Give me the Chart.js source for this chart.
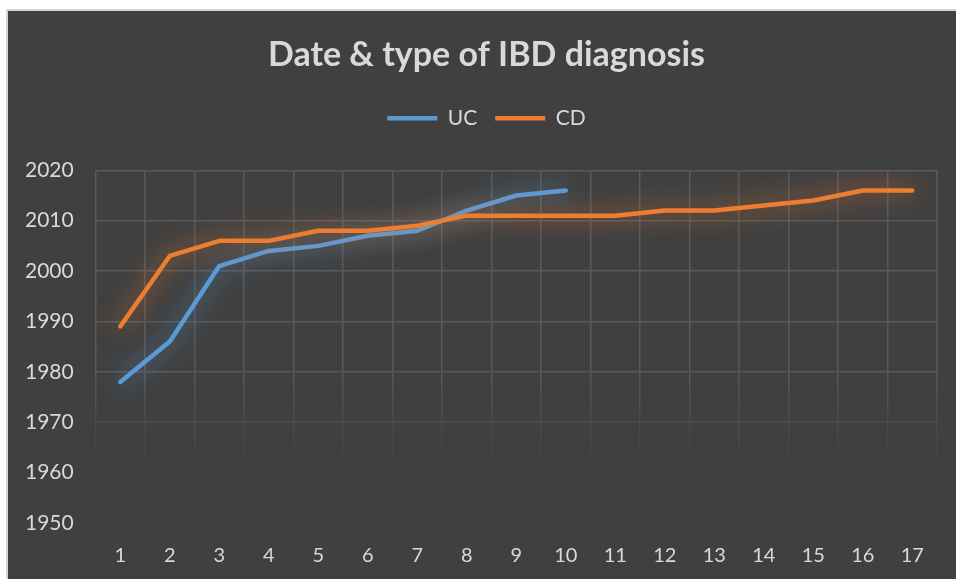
<!DOCTYPE html>
<html>
<head>
<meta charset="utf-8">
<script src="https://cdn.jsdelivr.net/npm/chart.js@4.4.1/dist/chart.umd.min.js"></script>
<style>
  html, body { margin: 0; padding: 0; background: #ffffff; width: 956px; height: 579px; overflow: hidden; }
  #wrap { position: absolute; left: 6px; top: 9px; width: 948px; height: 568px;
          border-left: 2px solid #d4d4d4; border-top: 2px solid #d4d4d4; background: #404040; }
  canvas { display: block; }
</style>
</head>
<body>
<div id="wrap"><canvas id="c" width="948" height="568"></canvas></div>
<script>
// ---- data ----
const categories = ['1','2','3','4','5','6','7','8','9','10','11','12','13','14','15','16','17'];
const ucValues = [1978, 1986, 2001, 2004, 2005, 2007, 2008, 2012, 2015, 2016];
const cdValues = [1989, 2003, 2006, 2006, 2008, 2008, 2009, 2011, 2011, 2011, 2011, 2012, 2012, 2013, 2014, 2016, 2016];
const seriesNames = ['UC', 'CD'];
const yMin = 1950, yMax = 2020, yStep = 10;
const titleText = 'Date & type of IBD diagnosis';

const textColor = '#d9d9d9';
const bgRGB = '64,64,64';

// fade the grid towards the bottom of the plot (drawn over grid, under datasets)
const gridFadePlugin = {
  id: 'gridFade',
  beforeDatasetsDraw(chart) {
    const { ctx, chartArea } = chart;
    const y = chart.scales.y;
    const y0 = y.getPixelForValue(1981);
    const y1 = y.getPixelForValue(1959);
    const g = ctx.createLinearGradient(0, y0, 0, y1);
    g.addColorStop(0, 'rgba(' + bgRGB + ',0)');
    g.addColorStop(0.5, 'rgba(' + bgRGB + ',0.6)');
    g.addColorStop(0.8, 'rgba(' + bgRGB + ',0.88)');
    g.addColorStop(1, 'rgba(' + bgRGB + ',1)');
    ctx.save();
    ctx.fillStyle = g;
    ctx.fillRect(chartArea.left - 2, y0, chartArea.right - chartArea.left + 4, y1 - y0);
    ctx.fillStyle = 'rgb(' + bgRGB + ')';
    ctx.fillRect(chartArea.left - 2, y1 - 0.5, chartArea.right - chartArea.left + 4, chartArea.bottom - y1 + 3);
    ctx.restore();
  }
};

const glowPlugin = {
  id: 'glow',
  beforeDatasetDraw(chart, args) {
    const ds = chart.data.datasets[args.index];
    chart.ctx.save();
    chart.ctx.shadowColor = ds.glowColor;
    chart.ctx.shadowBlur = 24;
    chart.ctx.shadowOffsetX = 0;
    chart.ctx.shadowOffsetY = 0;
  },
  afterDatasetDraw(chart) {
    chart.ctx.restore();
  }
};

new Chart(document.getElementById('c'), {
  type: 'line',
  data: {
    labels: categories,
    datasets: [
      { label: seriesNames[0], data: ucValues, borderColor: '#5b9bd5', backgroundColor: '#5b9bd5',
        glowColor: 'rgba(91,155,213,0.95)', borderWidth: 4.5, pointRadius: 0, tension: 0,
        borderCapStyle: 'round', borderJoinStyle: 'round', fill: false, order: 1 },
      { label: seriesNames[1], data: cdValues, borderColor: '#ed7d31', backgroundColor: '#ed7d31',
        glowColor: 'rgba(237,125,49,0.95)', borderWidth: 4.5, pointRadius: 0, tension: 0,
        borderCapStyle: 'round', borderJoinStyle: 'round', fill: false, order: 0 }
    ]
  },
  plugins: [gridFadePlugin, glowPlugin],
  options: {
    responsive: false,
    animation: false,
    devicePixelRatio: 1,
    layout: { padding: { left: 28, right: 19, top: 0, bottom: 0 } },
    plugins: {
      title: {
        display: true, text: titleText, color: textColor,
        font: { family: 'Lato', size: 34, weight: 'bold', lineHeight: 1.2 },
        padding: { top: 24, bottom: 14 }
      },
      legend: {
        display: true, position: 'top',
        labels: {
          color: textColor, font: { family: 'Lato', size: 21 },
          usePointStyle: true, pointStyle: 'line', pointStyleWidth: 50, padding: 18,
          sort: (a, b) => a.datasetIndex - b.datasetIndex
        }
      },
      tooltip: { enabled: false }
    },
    scales: {
      x: {
        type: 'category', offset: true,
        grid: { display: true, offset: true, color: '#5a5a5a', lineWidth: 1.5, drawTicks: false },
        border: { display: false },
        ticks: { color: textColor, font: { family: 'Lato', size: 20 }, padding: 21, maxRotation: 0, autoSkip: false },
        afterFit(s) { s.height = 56; }
      },
      x2: {
        type: 'category', position: 'top', display: true,
        grid: { display: false, drawTicks: false }, border: { display: false },
        ticks: { display: false },
        afterFit(s) { s.height = 31.5; }
      },
      y: {
        min: yMin, max: yMax,
        grid: { color: '#5a5a5a', lineWidth: 1.5, drawTicks: false },
        border: { display: false },
        ticks: { stepSize: yStep, color: textColor, font: { family: 'Lato', size: 21 },
                 mirror: true, crossAlign: 'near', padding: -70.5,
                 callback: (v) => String(v) },
        afterFit(s) { s.width = 59.5; }
      }
    }
  }
});
</script>
</body>
</html>
